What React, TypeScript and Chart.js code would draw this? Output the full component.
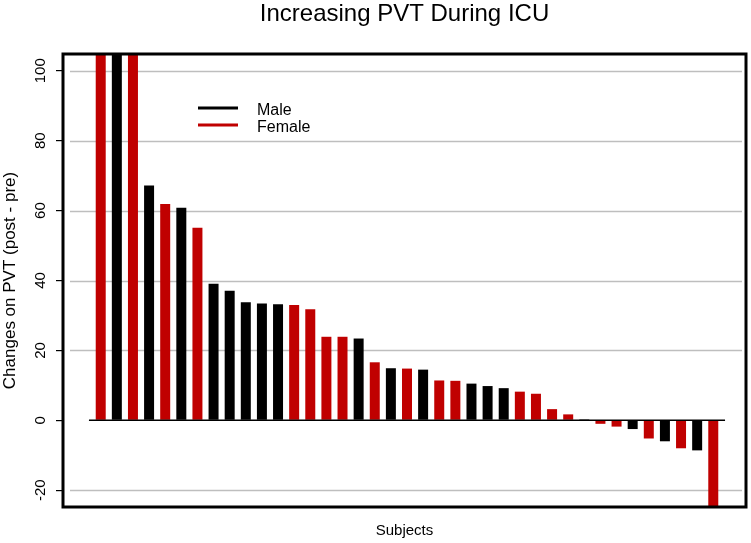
import React, { useEffect, useRef } from "react";
import { Chart, registerables } from "chart.js";

Chart.register(...registerables);

const TITLE = "Increasing PVT During ICU";
const Y_LABEL = "Changes on PVT (post - pre)";
const X_LABEL = "Subjects";

const SERIES_NAMES = ["Male", "Female"];
const SERIES_CODES = ["M", "F"];
const SERIES_COLORS = ["#000000", "#C00000"];

// change in PVT per subject, sorted descending (first three exceed the axis limit)
const changes = [
  140, 125, 115, 67.2, 61.9, 60.8, 55.1, 39.1, 37.1, 33.8, 33.4, 33.2, 33.0,
  31.8, 23.9, 23.9, 23.4, 16.6, 14.9, 14.8, 14.5, 11.4, 11.3, 10.5, 9.8, 9.2,
  8.2, 7.6, 3.2, 1.7, 0.3, -1.0, -1.8, -2.5, -5.2, -6.0, -8.0, -8.6, -32,
];
const sex = [
  "F", "M", "F", "M", "F", "M", "F", "M", "M", "M", "M", "M", "F", "F", "F",
  "F", "M", "F", "M", "F", "M", "F", "F", "M", "M", "M", "F", "F", "F", "F",
  "M", "F", "F", "M", "F", "M", "F", "M", "F",
];

const Y_MIN = -24.8;
const Y_MAX = 104.8;
const Y_STEP = 20;
const X_MIN = -1.34;
const X_MAX = 41.03;

const FONT = "'Liberation Sans', Arial, Helvetica, sans-serif";

const decorPlugin = {
  id: "decor",
  beforeDatasetsDraw(chart: any) {
    const { ctx, chartArea, scales } = chart;
    const y = scales.y;
    ctx.save();
    ctx.strokeStyle = "#bebebe";
    ctx.lineWidth = 1.5;
    y.ticks.forEach((t: any) => {
      if (t.value === 0) return;
      const py = Math.round(y.getPixelForValue(t.value)) + 0.5;
      ctx.beginPath();
      ctx.moveTo(chartArea.left + 7, py);
      ctx.lineTo(chartArea.right - 4, py);
      ctx.stroke();
    });
    ctx.restore();
  },
  afterDatasetsDraw(chart: any) {
    const { ctx, chartArea, scales } = chart;
    const x = scales.x;
    const y = scales.y;
    ctx.save();
    // zero baseline
    const py0 = y.getPixelForValue(0);
    ctx.strokeStyle = "#000";
    ctx.lineWidth = 1.5;
    ctx.beginPath();
    ctx.moveTo(x.getPixelForValue(1 - 0.73), py0);
    ctx.lineTo(x.getPixelForValue(changes.length + 0.73), py0);
    ctx.stroke();
    // plot box
    ctx.lineWidth = 3;
    ctx.strokeRect(
      chartArea.left,
      chartArea.top,
      chartArea.right - chartArea.left,
      chartArea.bottom - chartArea.top
    );
    // legend
    ctx.font = `16px ${FONT}`;
    ctx.textBaseline = "middle";
    ctx.textAlign = "left";
    chart.data.datasets.forEach((ds: any, i: number) => {
      const ly = chartArea.top + 54 + i * 17;
      ctx.strokeStyle = ds.backgroundColor;
      ctx.lineWidth = 3;
      ctx.beginPath();
      ctx.moveTo(chartArea.left + 135, ly);
      ctx.lineTo(chartArea.left + 175, ly);
      ctx.stroke();
      ctx.fillStyle = "#000";
      ctx.fillText(ds.label, chartArea.left + 194, ly + 3);
    });
    ctx.restore();
  },
};

export default function App() {
  const canvasRef = useRef<HTMLCanvasElement | null>(null);

  useEffect(() => {
    if (!canvasRef.current) return;
    const datasets = SERIES_CODES.map((code, si) => ({
      label: SERIES_NAMES[si],
      backgroundColor: SERIES_COLORS[si],
      borderWidth: 0,
      data: changes
        .map((v, i) => ({ x: i + 1, y: v, s: sex[i] }))
        .filter((p) => p.s === code)
        .map((p) => ({ x: p.x, y: p.y })),
      grouped: false,
      categoryPercentage: 1,
      barPercentage: 0.62,
    }));

    const chart = new Chart(canvasRef.current, {
      type: "bar",
      data: { datasets } as any,
      plugins: [decorPlugin],
      options: {
        animation: false,
        responsive: false,
        events: [],
        layout: { padding: { top: 0, right: 5, bottom: 0, left: 0 } },
        plugins: {
          legend: { display: false },
          tooltip: { enabled: false },
          title: {
            display: true,
            text: TITLE,
            fullSize: false,
            color: "#000",
            font: { family: FONT, size: 24, weight: "normal" },
            padding: { top: 0, bottom: 25.2 },
          },
        },
        scales: {
          x: {
            type: "linear",
            offset: false,
            min: X_MIN,
            max: X_MAX,
            ticks: { display: false },
            grid: { display: false, offset: false },
            border: { display: false },
            title: {
              display: true,
              text: X_LABEL,
              color: "#000",
              font: { family: FONT, size: 15 },
              padding: { top: 0, bottom: 3 },
            },
            afterFit: (s: any) => {
              s.height = 36;
            },
          },
          y: {
            type: "linear",
            min: Y_MIN,
            max: Y_MAX,
            ticks: {
              stepSize: Y_STEP,
              includeBounds: false,
              minRotation: 90,
              maxRotation: 90,
              crossAlign: "center",
              padding: 2.5,
              color: "#000",
              font: { family: FONT, size: 15 },
            },
            grid: {
              display: true,
              drawOnChartArea: false,
              drawTicks: true,
              tickLength: 7,
              color: "#000",
              lineWidth: 1.2,
            },
            border: { display: false },
            title: {
              display: true,
              text: Y_LABEL,
              color: "#000",
              font: { family: FONT, size: 17 },
              padding: { top: 0, bottom: 0 },
            },
            afterFit: (s: any) => {
              s.width = 63;
            },
          },
        },
      } as any,
    });
    return () => chart.destroy();
  }, []);

  return (
    <div style={{ position: "fixed", left: 0, top: 0, width: 751, height: 543, background: "#fff" }}>
      <canvas ref={canvasRef} width={751} height={543} style={{ display: "block" }} />
    </div>
  );
}
